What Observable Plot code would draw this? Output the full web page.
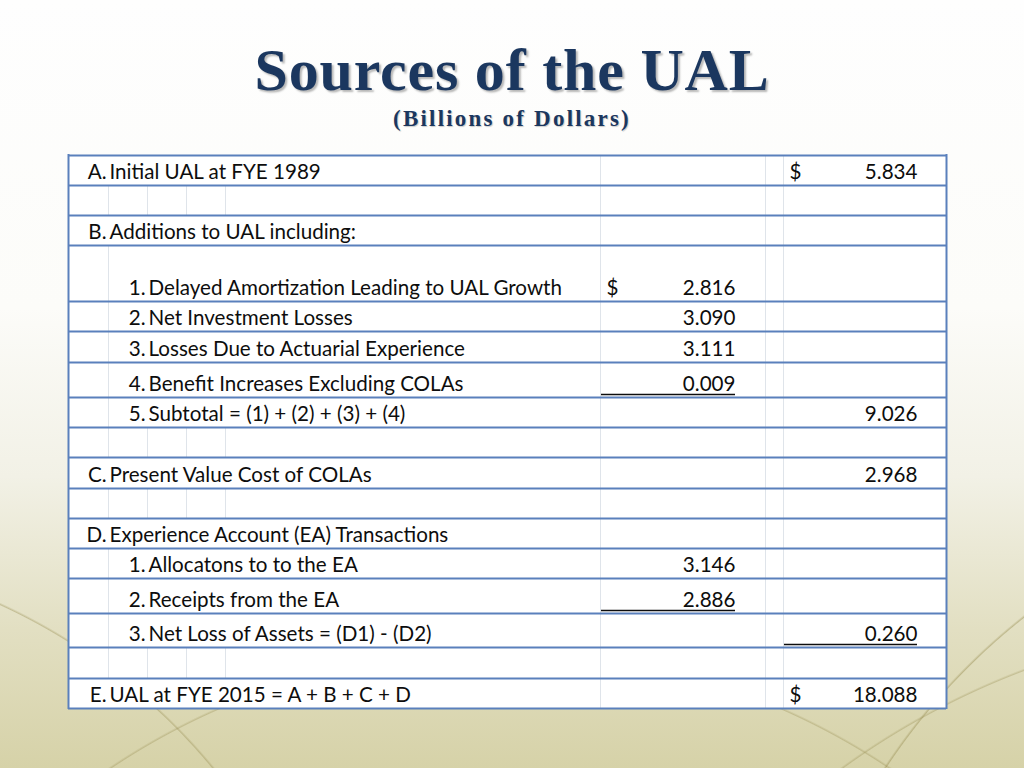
<!DOCTYPE html>
<html>
<head>
<meta charset="utf-8">
<script src="https://cdn.jsdelivr.net/npm/d3@7"></script>
<script src="https://cdn.jsdelivr.net/npm/@observablehq/plot@0.6"></script>
<style>
  html, body { margin: 0; padding: 0; }
  body {
    width: 1024px; height: 768px; overflow: hidden; position: relative;
    background:
      radial-gradient(circle at 1420px 1120px, transparent 639px, rgba(150,140,80,0.45) 640px, transparent 642px),
      radial-gradient(circle at 1300px 1400px, transparent 779px, rgba(150,140,80,0.35) 780px, transparent 782px),
      radial-gradient(circle at -250px 1150px, transparent 599px, rgba(150,140,80,0.4) 600px, transparent 602px),
      radial-gradient(circle at 500px 1350px, transparent 699px, rgba(150,140,80,0.35) 700px, transparent 702px),
      linear-gradient(to bottom, #fefefe 0%, #fcfcf9 40%, #f2f1e6 62%, #e2dfc2 82%, #d6d2a8 100%);
  }
  #title {
    position: absolute; left: 0; top: 40px; width: 1024px; text-align: center;
    font-family: "Liberation Serif", "DejaVu Serif", serif; font-weight: bold;
    font-size: 60px; line-height: 60px; letter-spacing: 0.8px; color: #1b375f;
    text-shadow: 2px 2px 2px rgba(0,0,0,0.28);
  }
  #subtitle {
    position: absolute; left: 0; top: 107px; width: 1024px; text-align: center;
    font-family: "Liberation Serif", "DejaVu Serif", serif; font-weight: bold;
    font-size: 23px; line-height: 23px; letter-spacing: 2.2px; color: #1b375f;
    text-shadow: 1px 1px 1px rgba(0,0,0,0.2);
  }
  #chart { position: absolute; left: 0; top: 140px; }
</style>
</head>
<body>
<div id="title">Sources of the UAL</div>
<div id="subtitle">(Billions of Dollars)</div>
<div id="chart"></div>
<script>
// ---------- data ----------
const prefixes = ["A.", "", "B.", "1.", "2.", "3.", "4.", "5.", "", "C.", "", "D.", "1.", "2.", "3.", "", "E."];
const labels = [
  "Initial UAL at FYE 1989",
  "",
  "Additions to UAL including:",
  "Delayed Amortization Leading to UAL Growth",
  "Net Investment Losses",
  "Losses Due to Actuarial Experience",
  "Benefit Increases Excluding COLAs",
  "Subtotal = (1) + (2) + (3) + (4)",
  "",
  "Present Value Cost of COLAs",
  "",
  "Experience Account (EA) Transactions",
  "Allocatons to to the EA",
  "Receipts from the EA",
  "Net Loss of Assets = (D1) - (D2)",
  "",
  "UAL at FYE 2015 = A + B + C + D"
];
const levels = [0, 0, 0, 1, 1, 1, 1, 1, 0, 0, 0, 0, 1, 1, 1, 0, 0];
const itemValues = [null, null, null, 2.816, 3.090, 3.111, 0.009, null, null, null, null, null, 3.146, 2.886, null, null, null];
const totalValues = [5.834, null, null, null, null, null, null, 9.026, null, 2.968, null, null, null, null, 0.260, null, 18.088];
const itemDollarRows = [3];
const totalDollarRows = [0, 16];
const itemUnderlineRows = [6, 13];
const totalUnderlineRows = [14];

// ---------- layout ----------
const rowHeights = [30, 30, 30, 56, 30, 31, 35, 30, 30, 31, 30, 30, 30, 35, 34, 31, 30];
const tableTop = 15, tableLeft = 68, tableRight = 946;
const prefixEnd = [106, 145];
const labelStart = [109, 148];
const itemDollarX = 606, itemEndX = 735, itemLineX1 = 601;
const totalDollarX = 789, totalEndX = 917, totalLineX1 = 784;
const midGuides = [600, 765, 783];
const indentGuides = [108, 147, 186, 225];
const blue = "#5a80bc", guide = "#dfe4ea", ink = "#0d0d0d";

let acc = tableTop;
const rows = labels.map((label, i) => {
  const top = acc; acc += rowHeights[i];
  return {i, prefix: prefixes[i], label, level: levels[i], item: itemValues[i], total: totalValues[i], top, bottom: acc};
});
const tableBottom = acc;
const edges = [tableTop, ...rows.map(r => r.bottom)];
const fmt = d3.format(".3f");

const guideSegs = rows.flatMap(r => {
  const xs = r.label === "" ? indentGuides : (r.level === 1 ? indentGuides.slice(0, 1) : []);
  return xs.map(x => ({x, y1: r.top, y2: r.bottom}));
});
const textY = r => r.bottom - 12.8;

const plot = Plot.plot({
  width: 1024,
  height: 628,
  x: {type: "identity", axis: null},
  y: {type: "identity", axis: null},
  style: {background: "transparent", fontFamily: "Lato, 'Open Sans', sans-serif", fontSize: "20.6px", color: ink},
  marks: [
    Plot.rect([0], {x1: tableLeft, x2: tableRight, y1: tableTop, y2: tableBottom, fill: "white", ariaLabel: "table-bg"}),
    Plot.ruleX(midGuides, {x: d => d, y1: tableTop, y2: tableBottom, stroke: guide, strokeWidth: 1}),
    Plot.ruleX(guideSegs, {x: "x", y1: "y1", y2: "y2", stroke: guide, strokeWidth: 1}),
    Plot.ruleY(edges, {y: d => d, x1: tableLeft, x2: tableRight, stroke: blue, strokeWidth: 2}),
    Plot.ruleX([tableLeft, tableRight], {x: d => d, y1: tableTop - 1, y2: tableBottom + 1, stroke: blue, strokeWidth: 2}),
    Plot.ruleY(itemUnderlineRows.map(i => rows[i]), {y: r => r.bottom - 3, x1: itemLineX1, x2: itemEndX, stroke: ink, strokeWidth: 1.5}),
    Plot.ruleY(totalUnderlineRows.map(i => rows[i]), {y: r => r.bottom - 3, x1: totalLineX1, x2: totalEndX, stroke: ink, strokeWidth: 1.5}),
    Plot.text(rows.filter(r => r.prefix), {x: r => prefixEnd[r.level], y: textY, text: "prefix", textAnchor: "end", fill: ink}),
    Plot.text(rows.filter(r => r.label), {x: r => labelStart[r.level], y: textY, text: "label", textAnchor: "start", fill: ink}),
    Plot.text(rows.filter(r => r.item != null), {x: itemEndX, y: textY, text: r => fmt(r.item), textAnchor: "end", fill: ink}),
    Plot.text(itemDollarRows.map(i => rows[i]), {x: itemDollarX, y: textY, text: () => "$", textAnchor: "start", fill: ink}),
    Plot.text(rows.filter(r => r.total != null), {x: totalEndX, y: textY, text: r => fmt(r.total), textAnchor: "end", fill: ink}),
    Plot.text(totalDollarRows.map(i => rows[i]), {x: totalDollarX, y: textY, text: () => "$", textAnchor: "start", fill: ink})
  ]
});
const bg = plot.querySelector('[aria-label="table-bg"]');
if (bg) bg.style.filter = "drop-shadow(2px -3px 3px rgba(0,0,0,0.35))";
document.getElementById("chart").appendChild(plot);
</script>
</body>
</html>
